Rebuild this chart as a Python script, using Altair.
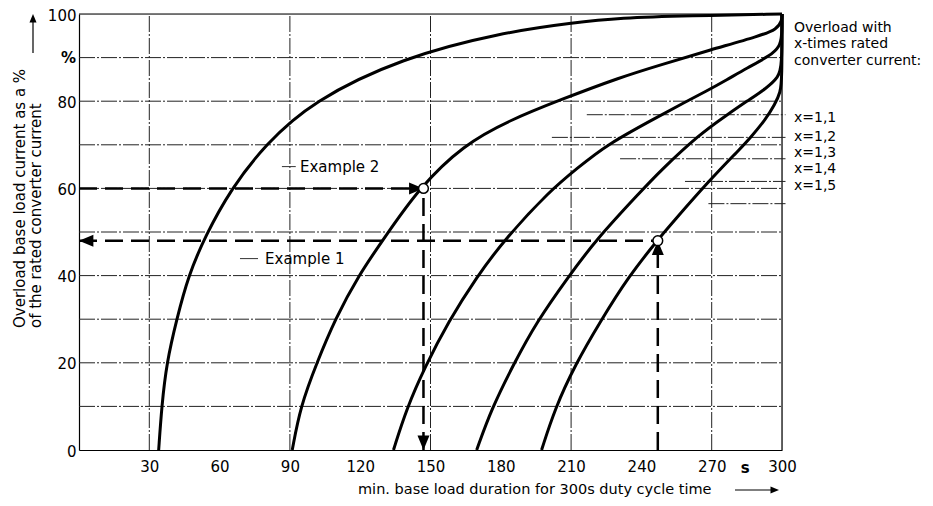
import altair as alt
import pandas as pd

FONT = "DejaVu Sans"
FS = 15

# ---------------- data ----------------
X_TICKS = [30, 60, 90, 120, 150, 180, 210, 240, 270, 300]
Y_TICKS = [0, 20, 40, 60, 80, 100]
H_GRID = [10, 20, 30, 40, 50, 60, 70, 80, 90]
V_GRID = [30, 90, 150, 210, 270]

SERIES = ["x=1,1", "x=1,2", "x=1,3", "x=1,4", "x=1,5"]
C1_X = [34, 35.3, 37.4, 41.7, 46.7, 53.8, 65, 79.4, 99.5, 138, 180, 211, 231, 260, 300]
C1_Y = [0, 10, 20, 30, 40, 49, 60, 70, 80, 90, 95.7, 98, 99.1, 99.6, 100]
C2_X = [91, 94.5, 101.5, 109.3, 119.2, 131, 145, 164, 184, 205.3, 231, 248, 269, 290.7, 297.8, 300, 300]
C2_Y = [0, 10, 20, 30, 40, 49.2, 60, 70, 75.7, 80.3, 85.5, 88.3, 91.7, 95, 96.5, 98.5, 100]
C3_X = [134.2, 139.8, 147.7, 157.6, 169.7, 181.8, 201, 212.4, 225, 248, 258, 268, 276.4, 285, 294.9, 299, 300, 300]
C3_Y = [0, 9.5, 19.1, 29.4, 39.7, 48.4, 59.5, 64.5, 70, 76.7, 79.6, 82.4, 84.9, 87.6, 90.4, 92.5, 95, 100]
C4_X = [169.7, 176.1, 185.3, 195.3, 208.8, 220.9, 239.4, 248, 265, 276.4, 285, 293.5, 298.5, 300, 300]
C4_Y = [0, 9.5, 19.5, 29.4, 39.7, 48.4, 59.1, 64, 72.5, 76.8, 80, 83, 85.5, 88, 100]
C5_X = [197.4, 203.1, 211.7, 222.4, 234.4, 247, 253, 269.3, 282, 286.3, 293, 297, 299.3, 300, 300]
C5_Y = [0, 9.5, 19.5, 29.4, 39.7, 48.2, 52, 62, 69, 71.5, 75.8, 79.3, 82, 85, 100]
CURVES_X = [C1_X, C2_X, C3_X, C4_X, C5_X]
CURVES_Y = [C1_Y, C2_Y, C3_Y, C4_Y, C5_Y]

Y_TITLE = ["Overload base load current as a %", "of the rated converter current"]
X_TITLE = "min. base load duration for 300s duty cycle time"
UNIT_X = "s"
UNIT_Y = "%"
LEGEND_HEAD = ["Overload with", "x-times rated", "converter current:"]
LEGEND_Y = [76.1, 71.9, 68.1, 64.5, 60.6]
LEADER_Y = [76.9, 71.7, 66.8, 61.6, 56.5]
LEADER_X0 = [216.7, 201.8, 230.9, 258.6, 268.6]

EX_NAMES = ["Example 1", "Example 2"]
EX_X = [247, 147]
EX_Y = [48, 60]
EX_LABEL_X = [79.4, 94.3]
EX_LABEL_Y = [43.9, 65.0]
EX_LEAD_X0 = [68.7, 86.6]
EX_LEAD_X1 = [76.4, 92.5]

# ---------------- scales ----------------
W, H = 703, 436
xs = alt.Scale(domain=[0, 300], nice=False, zero=False)
ys = alt.Scale(domain=[0, 100], nice=False, zero=False)
x_axis = alt.Axis(values=X_TICKS, title=None, grid=False, ticks=False, labelFont=FONT,
                  labelFontSize=FS, labelColor="black", domainColor="black", domainWidth=1.2,
                  labelPadding=9, labelFlush=False, labelOverlap=False)
y_axis = alt.Axis(values=Y_TICKS, title=None, grid=False, ticks=False, labelFont=FONT,
                  labelFontSize=FS, labelColor="black", domainColor="black", domainWidth=1.2,
                  labelPadding=3, labelOffset=1, labelFlush=False, labelOverlap=False)
X = alt.X("x:Q", scale=xs, axis=x_axis)
Y = alt.Y("y:Q", scale=ys, axis=y_axis)

GRID_STYLE = dict(color="#222", strokeWidth=1, strokeDash=[16, 2, 2, 2])

# ---------------- layers ----------------
hgrid = alt.Chart(pd.DataFrame({"y": H_GRID, "x": [0] * len(H_GRID), "x2": [300] * len(H_GRID)})).mark_rule(
    **GRID_STYLE).encode(x=X, x2="x2", y=Y)
vgrid = alt.Chart(pd.DataFrame({"x": V_GRID, "y": [0] * len(V_GRID), "y2": [100] * len(V_GRID)})).mark_rule(
    **GRID_STYLE).encode(x=X, y=Y, y2="y2")
border = alt.Chart(pd.DataFrame({"x": [300, 0], "x2": [300, 300], "y": [0, 100], "y2": [100, 100]})).mark_rule(
    color="black", strokeWidth=1.2).encode(x=X, x2="x2", y=Y, y2="y2")
leaders = alt.Chart(pd.DataFrame({"x": LEADER_X0, "x2": [301.5] * 5, "y": LEADER_Y})).mark_rule(
    clip=False, **GRID_STYLE).encode(x=X, x2="x2", y=Y)

rows = []
for name, cx, cy in zip(SERIES, CURVES_X, CURVES_Y):
    for i, (a, b) in enumerate(zip(cx, cy)):
        rows.append({"series": name, "i": i, "x": a, "y": b})
curves = alt.Chart(pd.DataFrame(rows)).mark_line(
    color="black", strokeWidth=3, interpolate="basis", clip=False).encode(
    x=X, y=Y, detail="series:N", order="i:Q")

# example dashed guides
dash_rows = []
for ex, ey in zip(EX_X, EX_Y):
    dash_rows.append({"x": 0, "x2": ex, "y": ey, "y2": ey})
    dash_rows.append({"x": ex, "x2": ex, "y": 0, "y2": ey})
dashes = alt.Chart(pd.DataFrame(dash_rows)).mark_rule(
    color="black", strokeWidth=2.5, strokeDash=[18, 8]).encode(x=X, x2="x2", y=Y, y2="y2")

RIGHT = "M0,0L-2.4,-1L-2.4,1Z"
LEFT = "M0,0L2.4,-1L2.4,1Z"
DOWN = "M0,0L-1,-2.4L1,-2.4Z"
UP = "M0,0L-1,2.4L1,2.4Z"
arrow_df = pd.DataFrame({
    "x": [0, EX_X[0], EX_X[1], EX_X[1]],
    "y": [EX_Y[0], EX_Y[0], EX_Y[1], 0],
    "shape": [LEFT, UP, RIGHT, DOWN],
})
arrows = alt.Chart(arrow_df).mark_point(filled=True, color="black", size=144, opacity=1).encode(
    x=X, y=Y, shape=alt.Shape("shape:N", scale=None))
circles = alt.Chart(pd.DataFrame({"x": EX_X, "y": EX_Y})).mark_point(
    shape="circle", fill="white", stroke="black", strokeWidth=1.5, size=95, opacity=1, fillOpacity=1).encode(x=X, y=Y)

ex_text = alt.Chart(pd.DataFrame({"x": EX_LABEL_X, "y": EX_LABEL_Y, "t": EX_NAMES})).mark_text(
    font=FONT, fontSize=FS, align="left", baseline="middle", color="black").encode(x=X, y=Y, text="t:N")
ex_lead = alt.Chart(pd.DataFrame({"x": EX_LEAD_X0, "x2": EX_LEAD_X1, "y": EX_LABEL_Y})).mark_rule(
    color="#333", strokeWidth=1).encode(x=X, x2="x2", y=Y)

pct = alt.Chart(pd.DataFrame({"x": [0], "y": [90], "t": [UNIT_Y]})).mark_text(
    font=FONT, fontSize=FS, fontWeight="bold", align="right", baseline="middle", dx=-3, color="black").encode(
    x=X, y=Y, text="t:N")
unit_s = alt.Chart(pd.DataFrame({"x": [284.3], "t": [UNIT_X]})).mark_text(
    font=FONT, fontSize=FS, fontWeight="bold", align="center", baseline="middle", color="black").encode(
    x=X, y=alt.value(H + 18), text="t:N")

head = alt.Chart(pd.DataFrame({"t": LEGEND_HEAD, "py": [13.5, 30, 46.5]})).mark_text(
    font=FONT, fontSize=14, align="left", baseline="middle", color="black").encode(
    x=alt.value(W + 12), y=alt.Y("py:Q", scale=None), text="t:N")
leg = alt.Chart(pd.DataFrame({"y": LEGEND_Y, "t": SERIES})).mark_text(
    font=FONT, fontSize=14, align="left", baseline="middle", color="black").encode(
    x=alt.value(W + 12), y=Y, text="t:N")

yt1 = alt.Chart(pd.DataFrame({"t": [Y_TITLE[0]]})).mark_text(
    font=FONT, fontSize=FS, angle=270, align="left", baseline="middle", color="black").encode(
    x=alt.value(-59), y=alt.value(314), text="t:N")
yt2 = alt.Chart(pd.DataFrame({"t": [Y_TITLE[1]]})).mark_text(
    font=FONT, fontSize=FS, angle=270, align="left", baseline="middle", color="black").encode(
    x=alt.value(-43), y=alt.value(314), text="t:N")
xt = alt.Chart(pd.DataFrame({"t": [X_TITLE]})).mark_text(
    font=FONT, fontSize=14.5, align="left", baseline="middle", color="black").encode(
    x=alt.value(279), y=alt.value(H + 39.5), text="t:N")

yarrow_line = alt.Chart(pd.DataFrame({"t": [UNIT_Y]})).mark_rule(color="black", strokeWidth=1.2).encode(
    x=alt.value(-46), y=alt.value(39), y2=alt.value(7))
yarrow_head = alt.Chart(pd.DataFrame({"t": [UNIT_Y]})).mark_point(
    filled=True, color="black", size=50, opacity=1, shape=UP).encode(x=alt.value(-46), y=alt.value(0))
xarrow_line = alt.Chart(pd.DataFrame({"t": [UNIT_X]})).mark_rule(color="black", strokeWidth=1.2).encode(
    x=alt.value(656), x2=alt.value(692), y=alt.value(H + 40))
xarrow_head = alt.Chart(pd.DataFrame({"t": [UNIT_X]})).mark_point(
    filled=True, color="black", size=50, opacity=1, shape=RIGHT).encode(x=alt.value(700), y=alt.value(H + 40))

chart = alt.layer(
    hgrid, vgrid, border, leaders, curves, dashes, arrows, circles, ex_lead, ex_text,
    pct, unit_s, head, leg, yt1, yt2, xt, yarrow_line, yarrow_head, xarrow_line, xarrow_head
).properties(
    width=W, height=H,
    autosize=alt.AutoSizeParams(type="none"),
    padding={"left": 71, "top": 6, "right": 143, "bottom": 48},
).configure_view(stroke=None).configure(background="white")

chart.save("out.html", embed_options={"renderer": "svg", "actions": False})
